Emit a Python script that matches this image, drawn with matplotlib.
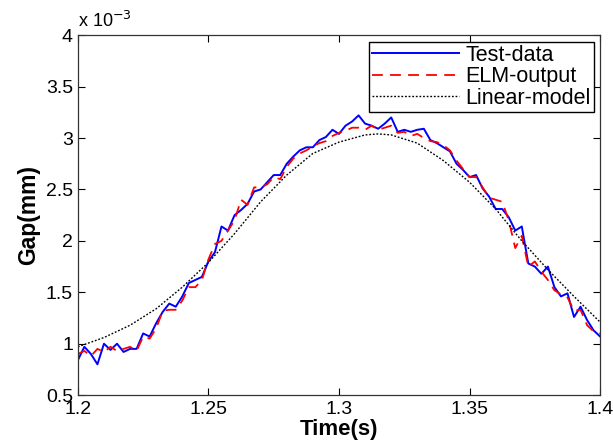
import numpy as np
import matplotlib.pyplot as plt
from matplotlib.ticker import FormatStrFormatter

plt.rcParams['font.family'] = ['Liberation Sans', 'DejaVu Sans']

# time axis for the measured / ELM traces (s)
t_data = np.round(np.arange(0, 81) * 0.0025 + 1.2, 4)

# gap values in units of 1e-3 mm
test_data = [0.84, 0.97, 0.90, 0.80, 1.00, 0.94, 1.00, 0.92, 0.95, 0.95,
             1.10, 1.07, 1.20, 1.31, 1.39, 1.36, 1.46, 1.59, 1.62, 1.65,
             1.80, 1.89, 2.14, 2.10, 2.25, 2.30, 2.36, 2.48, 2.50, 2.57,
             2.64, 2.64, 2.75, 2.82, 2.88, 2.91, 2.91, 2.98, 3.01, 3.08,
             3.04, 3.12, 3.16, 3.22, 3.14, 3.12, 3.09, 3.14, 3.20, 3.06,
             3.08, 3.06, 3.08, 3.09, 2.98, 2.95, 2.91, 2.87, 2.75, 2.69,
             2.62, 2.64, 2.51, 2.43, 2.31, 2.31, 2.23, 2.10, 2.14, 1.78,
             1.75, 1.68, 1.75, 1.55, 1.46, 1.49, 1.26, 1.36, 1.23, 1.13,
             1.07]

elm_output = [0.90, 0.93, 0.88, 0.95, 0.92, 0.97, 0.93, 0.95, 0.97, 0.93,
              1.07, 1.05, 1.15, 1.32, 1.33, 1.33, 1.42, 1.55, 1.55, 1.62,
              1.82, 1.97, 2.00, 2.10, 2.20, 2.40, 2.35, 2.52, 2.52, 2.55,
              2.62, 2.60, 2.72, 2.80, 2.85, 2.88, 2.92, 2.95, 2.97, 3.02,
              3.05, 3.07, 3.10, 3.10, 3.08, 3.12, 3.08, 3.10, 3.12, 3.05,
              3.06, 3.02, 3.04, 3.00, 2.97, 2.96, 2.93, 2.88, 2.78, 2.70,
              2.62, 2.62, 2.52, 2.42, 2.40, 2.38, 2.20, 1.93, 2.05, 1.75,
              1.80, 1.70, 1.62, 1.52, 1.48, 1.45, 1.32, 1.33, 1.18, 1.12,
              1.10]

t_lin = [1.20, 1.21, 1.22, 1.23, 1.24, 1.25, 1.26, 1.27, 1.28, 1.29, 1.30,
         1.31, 1.315, 1.32, 1.33, 1.34, 1.35, 1.36, 1.37, 1.38, 1.39, 1.40]
linear_model = [0.97, 1.06, 1.18, 1.34, 1.55, 1.79, 2.07, 2.38, 2.64, 2.85, 2.96,
                3.03, 3.04, 3.03, 2.95, 2.78, 2.57, 2.31, 2.00, 1.72, 1.46, 1.21]

fig = plt.figure(figsize=(6.13, 4.45), dpi=100)
ax = fig.add_axes([0.127, 0.112, 0.852, 0.809])

ax.plot(t_data, test_data, color='#0000ff', lw=1.4, label='Test-data')
ax.plot(t_data, elm_output, color='#ff0000', lw=1.3, dashes=(6, 4), label='ELM-output')
ax.plot(t_lin, linear_model, color='black', lw=1.0, ls=(0, (1.3, 1.3)), label='Linear-model')

ax.set_xlim(1.2, 1.4)
ax.set_ylim(0.5, 4)
ax.set_xticks([1.2, 1.25, 1.3, 1.35, 1.4])
ax.set_yticks([0.5, 1, 1.5, 2, 2.5, 3, 3.5, 4])
ax.xaxis.set_major_formatter(FormatStrFormatter('%g'))
ax.yaxis.set_major_formatter(FormatStrFormatter('%g'))
ax.tick_params(direction='in', top=True, right=True, labelsize=14, length=5, width=0.8)
ax.tick_params(axis='x', pad=4)
for s in ax.spines.values():
    s.set_linewidth(0.9)
    s.set_color('#333333')

ax.set_xlabel('Time(s)', fontsize=16, fontweight='bold', labelpad=1)
ax.set_ylabel('Gap(mm)', fontsize=16.5, fontweight='bold', labelpad=4)
ax.text(0.0, 1.012, r'x 10$^{-3}$', transform=ax.transAxes, fontsize=13,
        ha='left', va='bottom')

leg = ax.legend(loc='upper right', fontsize=15.5, fancybox=False, framealpha=1,
                edgecolor='black', borderaxespad=0.3, handlelength=4.0,
                borderpad=0.15, labelspacing=0.02, handletextpad=0.3)
leg.get_frame().set_linewidth(1.0)

fig.savefig('out.png', dpi=100)
